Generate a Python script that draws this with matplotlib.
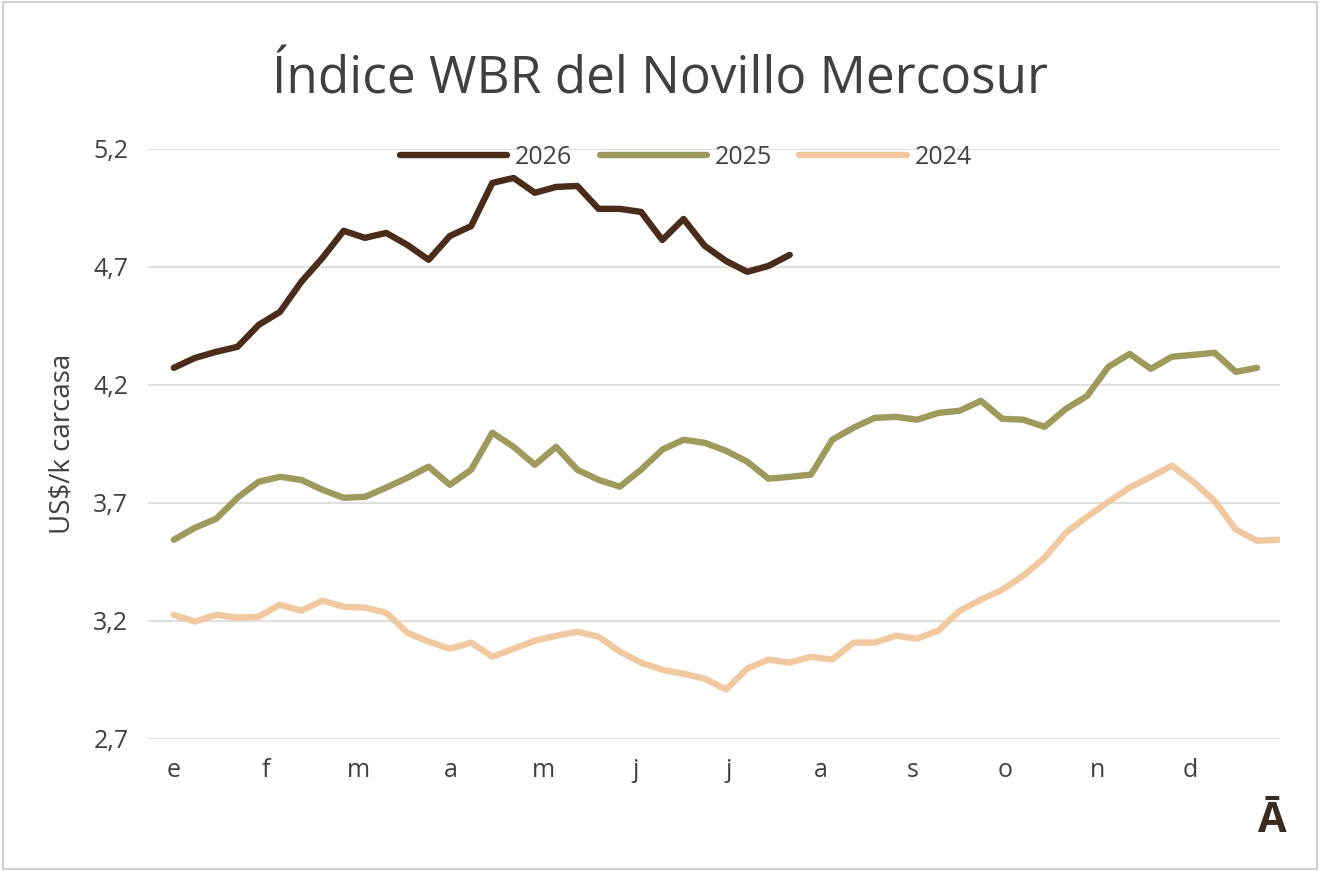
import matplotlib.pyplot as plt
import numpy as np

plt.rcParams['font.family'] = ['Open Sans', 'DejaVu Sans']

months = ['e', 'f', 'm', 'a', 'm', 'j', 'j', 'a', 's', 'o', 'n', 'd']
y_ticks = [2.7, 3.2, 3.7, 4.2, 4.7, 5.2]

v2026 = [4.272, 4.314, 4.340, 4.361, 4.454, 4.509, 4.636, 4.738, 4.853, 4.823,
         4.844, 4.793, 4.730, 4.831, 4.873, 5.056, 5.077, 5.014, 5.039, 5.043,
         4.946, 4.946, 4.933, 4.814, 4.903, 4.789, 4.725, 4.679, 4.704, 4.751]
v2025 = [3.543, 3.594, 3.632, 3.721, 3.789, 3.810, 3.797, 3.755, 3.721, 3.725,
         3.764, 3.806, 3.853, 3.776, 3.840, 3.997, 3.937, 3.861, 3.937, 3.840,
         3.797, 3.768, 3.840, 3.925, 3.967, 3.954, 3.920, 3.874, 3.802, 3.810,
         3.819, 3.967, 4.018, 4.060, 4.064, 4.052, 4.081, 4.090, 4.132, 4.056,
         4.052, 4.022, 4.098, 4.153, 4.276, 4.331, 4.268, 4.319, 4.327, 4.336,
         4.255, 4.272]
v2024 = [3.225, 3.196, 3.225, 3.213, 3.217, 3.268, 3.242, 3.285, 3.259, 3.255,
         3.234, 3.149, 3.111, 3.081, 3.107, 3.047, 3.081, 3.115, 3.136, 3.153,
         3.132, 3.069, 3.022, 2.992, 2.975, 2.954, 2.908, 2.997, 3.035, 3.022,
         3.047, 3.035, 3.107, 3.107, 3.136, 3.124, 3.158, 3.242, 3.289, 3.331,
         3.391, 3.467, 3.573, 3.641, 3.704, 3.764, 3.810, 3.857, 3.789, 3.708,
         3.586, 3.539, 3.543]

fig = plt.figure(figsize=(13.2, 8.71), dpi=100)
ax = fig.add_axes([0.112, 0.152, 0.858, 0.677])

ax.plot(np.arange(len(v2026)), v2026, color='#4a2c1a', lw=4.6, label='2026', solid_capstyle='round')
ax.plot(np.arange(len(v2025)), v2025, color='#9e9a5c', lw=4.6, label='2025', solid_capstyle='round')
ax.plot(np.arange(len(v2024)), v2024, color='#f0c9a0', lw=4.6, label='2024', solid_capstyle='round')

ax.set_ylim(2.7, 5.2)
ax.set_xlim(-1.22, 52.1)
ax.set_yticks(y_ticks)
ax.set_yticklabels([str(t).replace('.', ',') for t in y_ticks])
ax.set_xticks(np.arange(12) * 4.35)
ax.set_xticklabels(months)
ax.tick_params(length=0, labelsize=18, colors='#404040', pad=14)
ax.grid(axis='y', color='#d9d9d9', lw=1.2)
ax.set_axisbelow(True)
for s in ax.spines.values():
    s.set_visible(False)
ax.set_ylabel('US$/k carcasa', fontsize=20, color='#404040', labelpad=12)

ax.legend(loc='upper center', bbox_to_anchor=(0.475, 1.045), ncol=3, frameon=False,
          fontsize=18, handlelength=4.3, handletextpad=0.3, columnspacing=1.1, labelcolor='#404040')
fig.text(0.5, 0.893, 'Índice WBR del Novillo Mercosur', ha='center', fontsize=37, color='#404040')
fig.text(0.963, 0.045, 'Ā', ha='center', fontsize=30, fontweight='bold', color='#3b2a20')

fig.add_artist(plt.Rectangle((0.002, 0.002), 0.996, 0.996, transform=fig.transFigure,
                             fill=False, edgecolor='#d0d0d0', lw=1.5))
fig.savefig('out.png', dpi=100)
